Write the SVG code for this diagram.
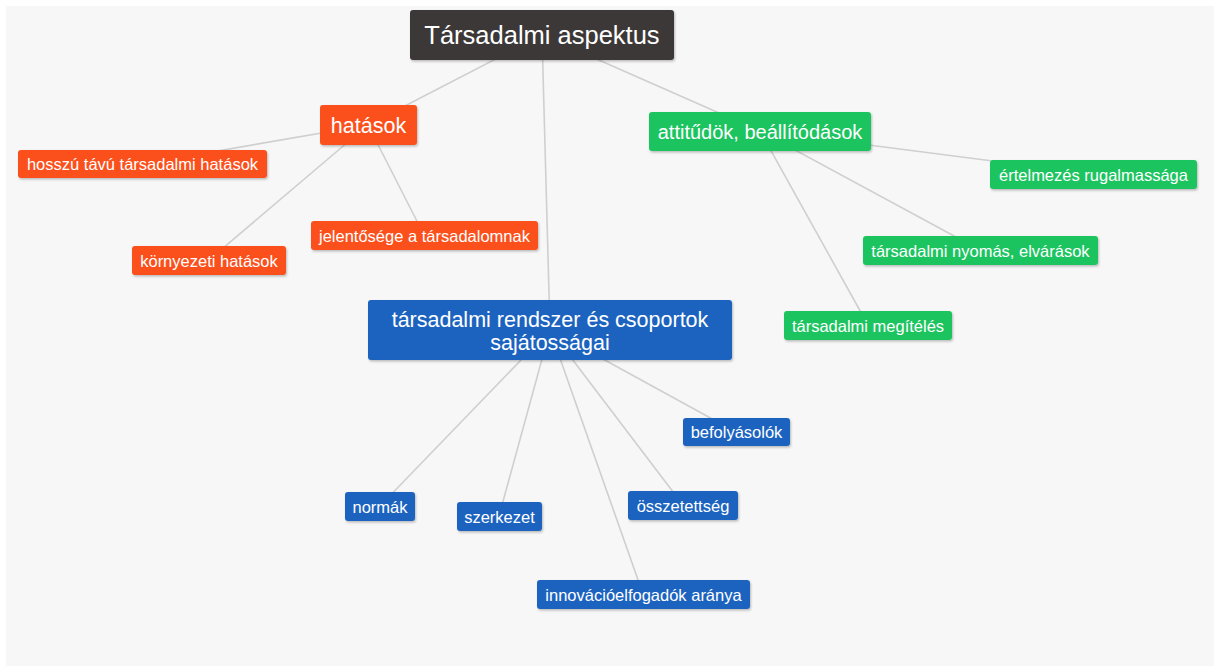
<svg xmlns="http://www.w3.org/2000/svg" width="1214" height="667" viewBox="0 0 1214 667">
  <defs>
    <filter id="shadow" x="-10%" y="-20%" width="120%" height="150%">
      <feDropShadow dx="1" dy="1.5" stdDeviation="1.2" flood-color="#000" flood-opacity="0.25"/>
    </filter>
    <style>
      .bg { fill: #ffffff; }
      .panel { fill: #f7f7f7; }
      .edge { stroke: #cfcfcf; stroke-width: 1.6; fill: none; }
      .box { filter: url(#shadow); }
      .root { fill: #3d3737; }
      .orange { fill: #fb4f1e; }
      .green { fill: #1fc45e; }
      .blue { fill: #1f63c0; }
      text { font-family: "Liberation Sans", Arial, sans-serif; fill: #ffffff; text-anchor: middle; }
      .t24 { font-size: 25.5px; }
      .t20 { font-size: 21.5px; }
      .t19 { font-size: 20px; }
      .t15 { font-size: 16.5px; }
    </style>
  </defs>

  <rect class="bg" x="0" y="0" width="1214" height="667"/>
  <rect class="panel" x="6" y="6" width="1208" height="660"/>

  <!-- connectors: centre to centre, drawn beneath the nodes -->
  <g id="connectors">
    <line class="edge" x1="542" y1="35" x2="368" y2="125"/>
    <line class="edge" x1="542" y1="35" x2="760" y2="131"/>
    <line class="edge" x1="542" y1="35" x2="550" y2="330"/>
    <line class="edge" x1="368" y1="125" x2="142" y2="164"/>
    <line class="edge" x1="368" y1="125" x2="209" y2="260"/>
    <line class="edge" x1="368" y1="125" x2="424" y2="235"/>
    <line class="edge" x1="760" y1="131" x2="1093" y2="174"/>
    <line class="edge" x1="760" y1="131" x2="980" y2="250"/>
    <line class="edge" x1="760" y1="131" x2="868" y2="325"/>
    <line class="edge" x1="550" y1="330" x2="736" y2="432"/>
    <line class="edge" x1="550" y1="330" x2="380" y2="506"/>
    <line class="edge" x1="550" y1="330" x2="499" y2="516"/>
    <line class="edge" x1="550" y1="330" x2="683" y2="505"/>
    <line class="edge" x1="550" y1="330" x2="643" y2="594"/>
  </g>

  <g id="root">
    <rect class="box root" x="410" y="10" width="264" height="50" rx="3"/>
    <text class="t24" x="542" y="44">Társadalmi aspektus</text>
  </g>

  <g id="hatasok">
    <rect class="box orange" x="320" y="105" width="97" height="40" rx="3"/>
    <text class="t20" x="368.5" y="132.5">hatások</text>
  </g>
  <g id="hosszu-tavu">
    <rect class="box orange" x="18" y="150" width="249" height="28" rx="3"/>
    <text class="t15" x="142.5" y="170">hosszú távú társadalmi hatások</text>
  </g>
  <g id="kornyezeti">
    <rect class="box orange" x="132" y="246" width="154" height="29" rx="3"/>
    <text class="t15" x="209" y="266.5">környezeti hatások</text>
  </g>
  <g id="jelentosege">
    <rect class="box orange" x="311" y="221" width="227" height="29" rx="3"/>
    <text class="t15" x="424.5" y="241.5">jelentősége a társadalomnak</text>
  </g>

  <g id="attitudok">
    <rect class="box green" x="649" y="112" width="222" height="39" rx="3"/>
    <text class="t19" x="760" y="138.5">attitűdök, beállítódások</text>
  </g>
  <g id="ertelmezes">
    <rect class="box green" x="990" y="160" width="207" height="29" rx="3"/>
    <text class="t15" x="1093.5" y="180.5">értelmezés rugalmassága</text>
  </g>
  <g id="nyomas">
    <rect class="box green" x="863" y="236" width="235" height="29" rx="3"/>
    <text class="t15" x="980.5" y="256.5">társadalmi nyomás, elvárások</text>
  </g>
  <g id="megiteles">
    <rect class="box green" x="784" y="311" width="168" height="29" rx="3"/>
    <text class="t15" x="868" y="331.5">társadalmi megítélés</text>
  </g>

  <g id="rendszer">
    <rect class="box blue" x="368" y="300" width="364" height="60" rx="3"/>
    <text class="t20" x="550" y="327">társadalmi rendszer és csoportok</text>
    <text class="t20" x="550" y="350">sajátosságai</text>
  </g>
  <g id="befolyasolok">
    <rect class="box blue" x="683" y="418" width="107" height="28" rx="3"/>
    <text class="t15" x="736.5" y="438">befolyásolók</text>
  </g>
  <g id="normak">
    <rect class="box blue" x="345" y="492" width="70" height="29" rx="3"/>
    <text class="t15" x="380" y="512.5">normák</text>
  </g>
  <g id="szerkezet">
    <rect class="box blue" x="457" y="502" width="85" height="29" rx="3"/>
    <text class="t15" x="499.5" y="522.5">szerkezet</text>
  </g>
  <g id="osszetettseg">
    <rect class="box blue" x="628" y="491" width="110" height="29" rx="3"/>
    <text class="t15" x="683" y="511.5">összetettség</text>
  </g>
  <g id="innovacio">
    <rect class="box blue" x="537" y="580" width="213" height="29" rx="3"/>
    <text class="t15" x="643.5" y="600.5">innovációelfogadók aránya</text>
  </g>
</svg>
